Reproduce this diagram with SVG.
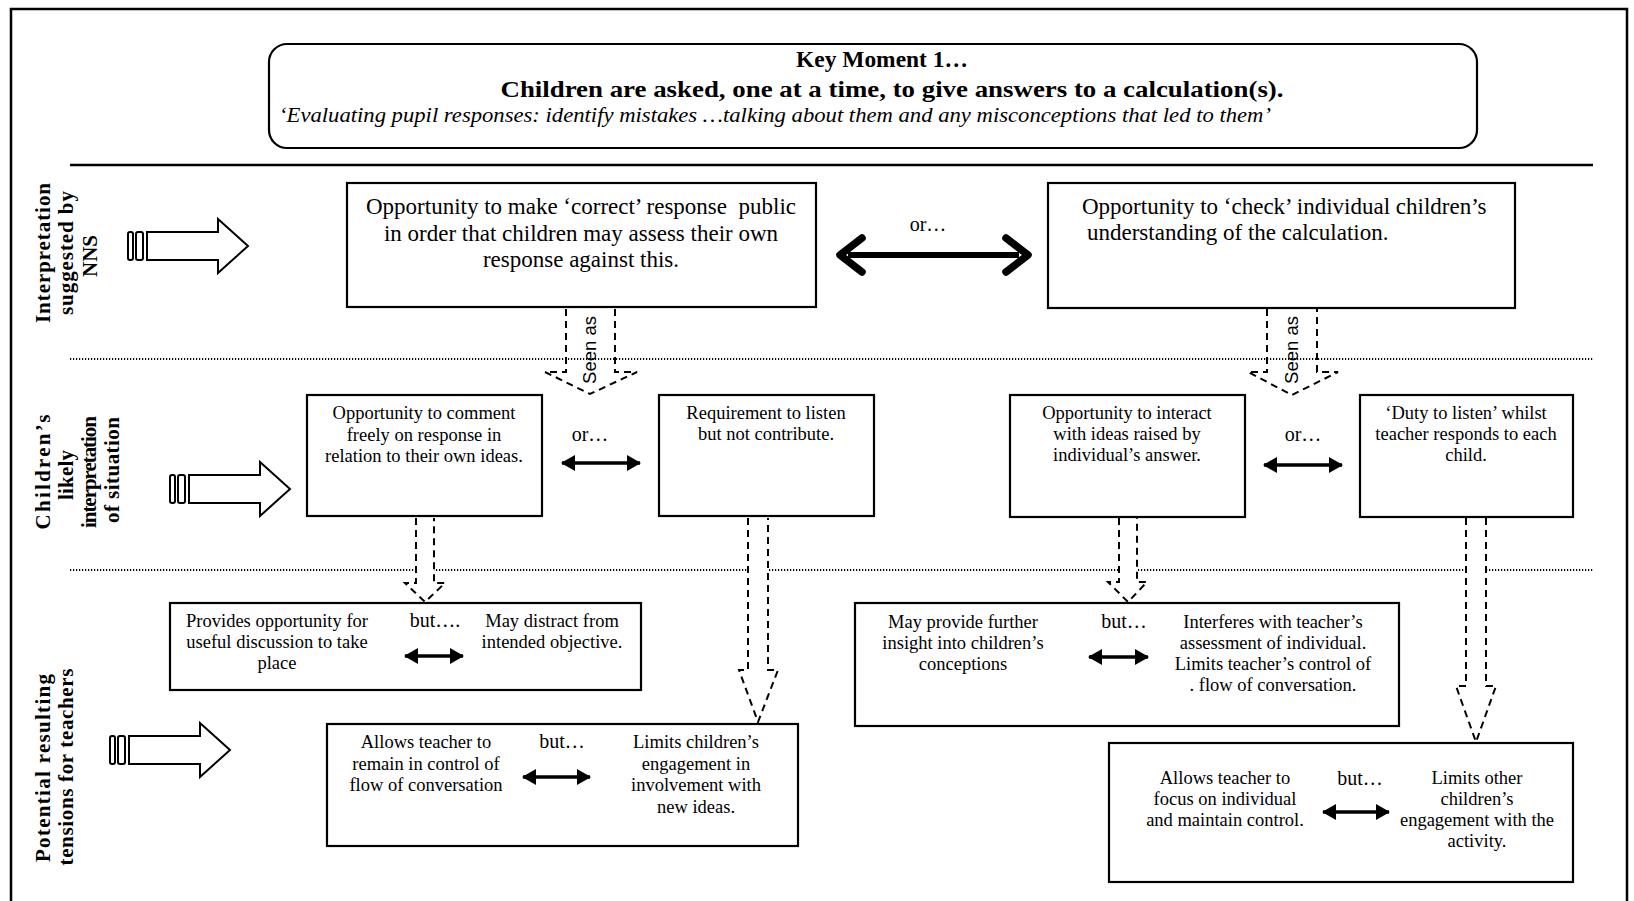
<svg xmlns="http://www.w3.org/2000/svg" xmlns:xlink="http://www.w3.org/1999/xlink" width="1634" height="901" viewBox="0 0 1634 901">
  <style>
    .box { fill: #fff; stroke: #000; stroke-width: 2.2; }
    .serif { font-family: "Liberation Serif", "Times New Roman", serif; fill: #000; }
    .sans { font-family: "Liberation Sans", Arial, sans-serif; fill: #000; }
    .big { font-size: 23px; }
    .mid { font-size: 18.5px; }
    .conj { font-size: 20px; }
    .label { font-size: 21px; font-weight: bold; }
    .c { text-anchor: middle; }
    .rule { stroke: #000; stroke-width: 2.5; fill: none; }
    .dots { stroke: #000; stroke-width: 2; stroke-dasharray: 1.2 1.8; fill: none; }
    .dash { stroke: #000; stroke-width: 2; stroke-dasharray: 7 5; }
    .hollow { fill: #fff; stroke: #000; stroke-width: 2; }
    .dbl { stroke: #000; stroke-width: 3.5; fill: none; }
  </style>
  <defs>
    <!-- striped hollow block arrow pointing right, origin at tail centre -->
    <g id="tailArrow" class="hollow">
      <rect x="0" y="-14" width="5" height="28" rx="2"/>
      <rect x="8" y="-14" width="7" height="28" rx="2"/>
      <path d="M19,-14 H90 V-27 L120,0 L90,27 V14 H19 Z"/>
    </g>
    <marker id="head" viewBox="0 0 14 16" refX="13" refY="8" markerWidth="14" markerHeight="16" markerUnits="userSpaceOnUse" orient="auto-start-reverse">
      <path d="M0,0 L14,8 L0,16 Z" fill="#000"/>
    </marker>
  </defs>

  <rect width="1634" height="901" fill="#fff"/>

  <!-- outer frame -->
  <path class="rule" d="M11,901 V9 H1627 V901" stroke-width="2"/>

  <!-- band separators -->
  <g id="separators">
    <line class="rule" x1="70" y1="165" x2="1593" y2="165"/>
    <line class="dots" x1="70" y1="359" x2="1593" y2="359"/>
    <line class="dots" x1="70" y1="570" x2="1593" y2="570"/>
  </g>

  <!-- header -->
  <g id="key-moment">
    <rect class="box" x="269" y="44" width="1208" height="104" rx="18" stroke-width="2.5"/>
    <text class="serif c" x="882" y="67" font-size="23" font-weight="bold" textLength="172" lengthAdjust="spacingAndGlyphs">Key Moment 1…</text>
    <text class="serif c" x="892" y="97" font-size="23" font-weight="bold" textLength="783" lengthAdjust="spacingAndGlyphs">Children are asked, one at a time, to give answers to a calculation(s).</text>
    <text class="serif c" x="775" y="122" font-size="20" font-style="italic" textLength="992" lengthAdjust="spacingAndGlyphs">‘Evaluating pupil responses: identify mistakes …talking about them and any misconceptions that led to them’</text>
  </g>

  <!-- row labels -->
  <g id="label-nns" class="serif label">
    <text class="c" transform="translate(50,253) rotate(-90)" textLength="140" lengthAdjust="spacing">Interpretation</text>
    <text class="c" transform="translate(73,253) rotate(-90)" textLength="124" lengthAdjust="spacing">suggested by</text>
    <text class="c" transform="translate(97,256) rotate(-90)">NNS</text>
  </g>
  <g id="label-children" class="serif label">
    <text class="c" transform="translate(50,472) rotate(-90)" textLength="115" lengthAdjust="spacing">Children’s</text>
    <text class="c" transform="translate(73,475) rotate(-90)" textLength="50" lengthAdjust="spacing">likely</text>
    <text class="c" transform="translate(96,472) rotate(-90)" textLength="112" lengthAdjust="spacing">interpretation</text>
    <text class="c" transform="translate(119,470) rotate(-90)" textLength="106" lengthAdjust="spacing">of situation</text>
  </g>
  <g id="label-tensions" class="serif label">
    <text class="c" transform="translate(50,768) rotate(-90)" textLength="188" lengthAdjust="spacing">Potential resulting</text>
    <text class="c" transform="translate(73,767) rotate(-90)" textLength="197" lengthAdjust="spacing">tensions for teachers</text>
  </g>

  <!-- side arrows into each band -->
  <g id="band-arrows">
    <use xlink:href="#tailArrow" href="#tailArrow" transform="translate(128,246)"/>
    <use xlink:href="#tailArrow" href="#tailArrow" transform="translate(170,489)"/>
    <use xlink:href="#tailArrow" href="#tailArrow" transform="translate(110,750)"/>
  </g>

  <!-- connectors -->
  <g id="connectors">
    <!-- "Seen as" arrows (unfilled) -->
    <path class="dash" fill="none" d="M566,309 V372 H545 L590,394 L637,372 H615 V309"/>
    <text class="sans" font-size="18.5" text-anchor="middle" transform="translate(596,350) rotate(-90)">Seen as</text>
    <path class="dash" fill="none" d="M1267,309 V372 H1248 L1292,395 L1338,372 H1317 V309"/>
    <text class="sans" font-size="18.5" text-anchor="middle" transform="translate(1298,350) rotate(-90)">Seen as</text>

    <!-- downward arrows into the tensions band -->
    <path class="dash" fill="#fff" d="M416,518 V583 H405 L425,602 L445,583 H434 V518"/>
    <path class="dash" fill="#fff" d="M748,518 V670 H739 L758,722 L778,670 H768 V518"/>
    <path class="dash" fill="#fff" d="M1119,518 V582 H1108 L1128,602 L1147,582 H1137 V518"/>
    <path class="dash" fill="#fff" d="M1466,518 V686 H1456 L1476,742 L1496,686 H1486 V518"/>

    <!-- main two-way choice -->
    <path d="M848,255 H1019" stroke="#000" stroke-width="6" fill="none"/>
    <path d="M862,238 L840,255 L862,272" stroke="#000" stroke-width="7.5" fill="none" stroke-linecap="round" stroke-linejoin="round"/>
    <path d="M1006,238 L1028,255 L1006,272" stroke="#000" stroke-width="7.5" fill="none" stroke-linecap="round" stroke-linejoin="round"/>
    <text class="serif conj c" x="928" y="231">or…</text>

    <!-- two-way choices between children's interpretations -->
    <line class="dbl" x1="562" y1="463" x2="640" y2="463" marker-start="url(#head)" marker-end="url(#head)"/>
    <text class="serif conj c" x="590" y="441">or…</text>
    <line class="dbl" x1="1264" y1="465" x2="1342" y2="465" marker-start="url(#head)" marker-end="url(#head)"/>
    <text class="serif conj c" x="1303" y="441">or…</text>
  </g>

  <!-- NNS interpretations -->
  <g id="nns-public">
    <rect class="box" x="347" y="183" width="469" height="124"/>
    <text class="serif big c" x="581" y="214" xml:space="preserve">Opportunity to make ‘correct’ response  public</text>
    <text class="serif big c" x="581" y="241">in order that children may assess their own</text>
    <text class="serif big c" x="581" y="267">response against this.</text>
  </g>
  <g id="nns-check">
    <rect class="box" x="1048" y="183" width="467" height="125"/>
    <text class="serif big" x="1082" y="214">Opportunity to ‘check’ individual children’s</text>
    <text class="serif big" x="1087" y="240">understanding of the calculation.</text>
  </g>

  <!-- children's interpretations -->
  <g id="child-comment">
    <rect class="box" x="307" y="395" width="235" height="121"/>
    <text class="serif mid c" x="424" y="419">Opportunity to comment</text>
    <text class="serif mid c" x="424" y="441">freely on response in</text>
    <text class="serif mid c" x="424" y="462">relation to their own ideas.</text>
  </g>
  <g id="child-listen">
    <rect class="box" x="659" y="395" width="215" height="121"/>
    <text class="serif mid c" x="766" y="419">Requirement to listen</text>
    <text class="serif mid c" x="766" y="440">but not contribute.</text>
  </g>
  <g id="child-interact">
    <rect class="box" x="1010" y="395" width="235" height="122"/>
    <text class="serif mid c" x="1127" y="419">Opportunity to interact</text>
    <text class="serif mid c" x="1127" y="440">with ideas raised by</text>
    <text class="serif mid c" x="1127" y="461">individual’s answer.</text>
  </g>
  <g id="child-duty">
    <rect class="box" x="1360" y="395" width="213" height="122"/>
    <text class="serif mid c" x="1466" y="419">‘Duty to listen’ whilst</text>
    <text class="serif mid c" x="1466" y="440">teacher responds to each</text>
    <text class="serif mid c" x="1466" y="461">child.</text>
  </g>

  <!-- tensions for teachers -->
  <g id="tension-discussion">
    <rect class="box" x="170" y="603" width="471" height="87"/>
    <text class="serif mid c" x="277" y="627">Provides opportunity for</text>
    <text class="serif mid c" x="277" y="648">useful discussion to take</text>
    <text class="serif mid c" x="277" y="669">place</text>
    <text class="serif conj c" x="435" y="627">but….</text>
    <line class="dbl" x1="405" y1="656" x2="463" y2="656" marker-start="url(#head)" marker-end="url(#head)"/>
    <text class="serif mid c" x="552" y="627">May distract from</text>
    <text class="serif mid c" x="552" y="648">intended objective.</text>
  </g>
  <g id="tension-control">
    <rect class="box" x="327" y="724" width="471" height="122"/>
    <text class="serif mid c" x="426" y="748">Allows teacher to</text>
    <text class="serif mid c" x="426" y="770">remain in control of</text>
    <text class="serif mid c" x="426" y="791">flow of conversation</text>
    <text class="serif conj c" x="562" y="748">but…</text>
    <line class="dbl" x1="523" y1="777" x2="590" y2="777" marker-start="url(#head)" marker-end="url(#head)"/>
    <text class="serif mid c" x="696" y="748">Limits children’s</text>
    <text class="serif mid c" x="696" y="770">engagement in</text>
    <text class="serif mid c" x="696" y="791">involvement with</text>
    <text class="serif mid c" x="696" y="813">new ideas.</text>
  </g>
  <g id="tension-insight">
    <rect class="box" x="855" y="603" width="544" height="123"/>
    <text class="serif mid c" x="963" y="628">May provide further</text>
    <text class="serif mid c" x="963" y="649">insight into children’s</text>
    <text class="serif mid c" x="963" y="670">conceptions</text>
    <text class="serif conj c" x="1124" y="628">but…</text>
    <line class="dbl" x1="1089" y1="657" x2="1148" y2="657" marker-start="url(#head)" marker-end="url(#head)"/>
    <text class="serif mid c" x="1273" y="628">Interferes with teacher’s</text>
    <text class="serif mid c" x="1273" y="649">assessment of individual.</text>
    <text class="serif mid c" x="1273" y="670">Limits teacher’s control of</text>
    <text class="serif mid c" x="1273" y="691">. flow of conversation.</text>
  </g>
  <g id="tension-focus">
    <rect class="box" x="1109" y="743" width="464" height="139"/>
    <text class="serif mid c" x="1225" y="784">Allows teacher to</text>
    <text class="serif mid c" x="1225" y="805">focus on individual</text>
    <text class="serif mid c" x="1225" y="826">and maintain control.</text>
    <text class="serif conj c" x="1360" y="785">but…</text>
    <line class="dbl" x1="1323" y1="812" x2="1389" y2="812" marker-start="url(#head)" marker-end="url(#head)"/>
    <text class="serif mid c" x="1477" y="784">Limits other</text>
    <text class="serif mid c" x="1477" y="805">children’s</text>
    <text class="serif mid c" x="1477" y="826">engagement with the</text>
    <text class="serif mid c" x="1477" y="847">activity.</text>
  </g>
</svg>
